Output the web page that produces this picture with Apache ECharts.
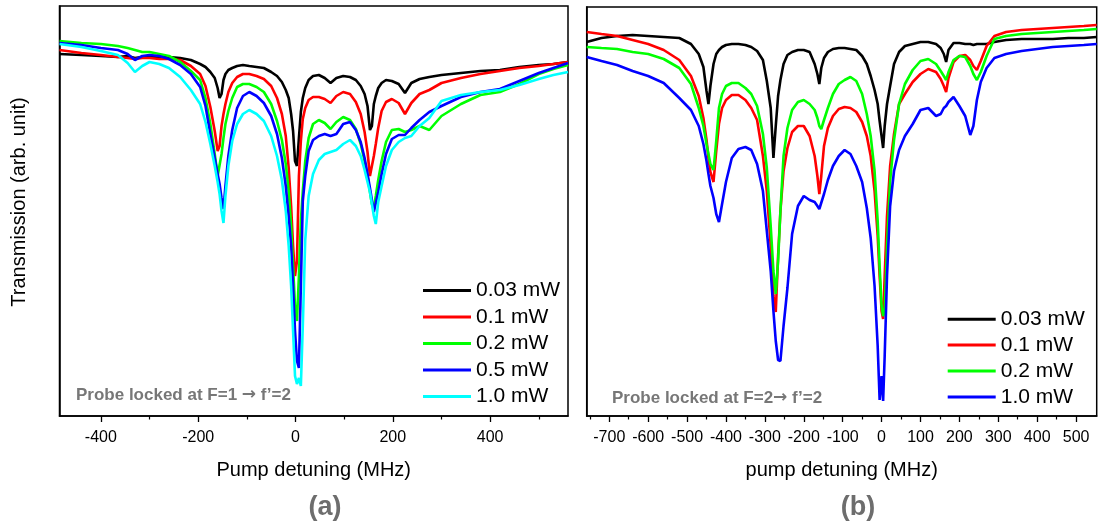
<!DOCTYPE html>
<html><head><meta charset="utf-8">
<script src="https://cdn.jsdelivr.net/npm/echarts@6/dist/echarts.min.js"></script>
<style>html,body{margin:0;padding:0;background:#fff}#c{width:1098px;height:527px}</style>
</head><body><div id="c"></div>
<script>
// ---------- Panel (a): probe locked at F=1 -> f'=2 ----------
const xA = [-485,-440,-400,-365,-345,-330,-315,-300,-280,-260,
 -237,-215,-196,-185,-175,-166,-160,-156,-152,-148,
 -144,-138,-130,-120,-108,-95,-80,-65,-50,-38,
 -28,-20,-14,-9,-5,-1,3,7,11,15,
 20,27,36,48,60,72,84,98,112,124,
 134,142,148,153,157,161,165,170,177,186,
 198,212,225,238,255,275,300,340,380,420,
 460,500,530,560];
const a003 = [3.62,3.61,3.60,3.59,3.60,3.58,3.59,3.59,3.59,3.59,
 3.58,3.56,3.52,3.49,3.44,3.38,3.28,3.18,3.22,3.36,
 3.42,3.46,3.48,3.50,3.51,3.50,3.49,3.48,3.44,3.40,
 3.34,3.26,3.18,3.02,2.85,2.55,2.50,2.78,3.04,3.18,
 3.28,3.36,3.40,3.41,3.38,3.33,3.38,3.40,3.39,3.36,
 3.30,3.22,3.10,2.86,2.90,3.12,3.20,3.28,3.33,3.36,
 3.35,3.32,3.23,3.33,3.37,3.39,3.41,3.43,3.45,3.46,
 3.49,3.51,3.52,3.54];
const a01 = [3.66,3.63,3.61,3.59,3.58,3.57,3.58,3.58,3.57,3.57,
 3.56,3.50,3.42,3.30,3.09,2.85,2.65,2.70,2.90,3.02,
 3.12,3.24,3.33,3.39,3.42,3.42,3.40,3.37,3.30,3.18,
 3.02,2.80,2.48,2.10,1.70,1.40,1.55,2.40,2.75,2.97,
 3.08,3.16,3.19,3.19,3.17,3.13,3.20,3.24,3.22,3.14,
 3.02,2.84,2.64,2.40,2.38,2.60,2.72,2.88,3.05,3.14,
 3.17,3.13,3.02,3.13,3.22,3.26,3.33,3.38,3.42,3.45,
 3.48,3.50,3.52,3.54];
const a02 = [3.75,3.73,3.72,3.70,3.68,3.66,3.64,3.64,3.62,3.60,
 3.54,3.45,3.36,3.18,2.92,2.62,2.40,2.40,2.62,2.78,
 2.92,3.05,3.18,3.29,3.32,3.32,3.29,3.24,3.12,2.95,
 2.76,2.52,2.25,1.90,1.50,1.10,0.95,1.40,1.95,2.25,
 2.55,2.78,2.92,2.96,2.93,2.87,2.94,2.99,2.96,2.87,
 2.72,2.55,2.40,2.24,2.12,2.08,2.20,2.36,2.55,2.74,
 2.86,2.87,2.84,2.86,2.90,2.86,3.00,3.12,3.21,3.24,
 3.32,3.42,3.47,3.51];
const a05 = [3.73,3.71,3.68,3.66,3.62,3.56,3.60,3.61,3.60,3.57,
 3.51,3.42,3.29,3.10,2.82,2.58,2.42,2.32,2.18,2.07,
 2.30,2.60,2.86,3.08,3.20,3.24,3.20,3.13,3.00,2.82,
 2.58,2.30,2.00,1.70,1.30,0.85,0.55,0.48,1.30,2.15,
 2.40,2.65,2.76,2.80,2.82,2.80,2.82,2.92,2.94,2.86,
 2.74,2.58,2.42,2.28,2.16,2.04,2.02,2.24,2.42,2.62,
 2.77,2.81,2.81,2.88,2.96,3.04,3.10,3.19,3.24,3.27,
 3.35,3.43,3.48,3.53];
const a10 = [3.72,3.69,3.65,3.61,3.53,3.44,3.50,3.54,3.52,3.48,
 3.39,3.26,3.12,2.94,2.72,2.50,2.34,2.22,2.05,1.93,
 2.20,2.50,2.75,2.92,3.02,3.06,3.02,2.95,2.80,2.60,
 2.36,2.05,1.70,1.30,0.85,0.40,0.32,0.38,0.30,0.90,
 1.76,2.20,2.42,2.56,2.62,2.64,2.66,2.72,2.76,2.70,
 2.60,2.46,2.34,2.24,2.12,2.00,1.92,2.14,2.30,2.50,
 2.66,2.74,2.78,2.80,2.90,2.98,3.15,3.21,3.24,3.26,
 3.31,3.37,3.41,3.44];
const ticksA = [-400,-200,0,200,400];
const minorA = [-300,-100,100,300,500];

// ---------- Panel (b): probe locked at F=2 -> f'=2 ----------
const xB = [-758,-720,-680,-640,-600,-560,-520,-490,-470,-458,
 -450,-445,-440,-432,-425,-418,-410,-400,-385,-368,
 -350,-335,-320,-305,-295,-285,-278,-272,-266,-260,
 -252,-242,-230,-215,-200,-185,-172,-165,-160,-155,
 -148,-138,-125,-110,-95,-80,-65,-50,-38,-28,
 -18,-10,-5,0,4,8,14,22,32,45,
 60,80,100,120,140,152,160,166,172,185,
 200,215,228,236,245,255,270,290,320,360,
 400,440,480,520,553];
const b003 = [3.74,3.78,3.80,3.81,3.80,3.79,3.78,3.72,3.62,3.49,
 3.25,3.12,3.30,3.52,3.62,3.66,3.69,3.71,3.72,3.72,
 3.71,3.69,3.65,3.56,3.35,3.08,2.58,2.90,3.20,3.36,
 3.52,3.61,3.64,3.66,3.66,3.64,3.52,3.42,3.32,3.48,
 3.58,3.64,3.67,3.68,3.68,3.67,3.66,3.60,3.52,3.40,
 3.26,3.12,2.95,2.80,2.68,2.90,3.12,3.30,3.52,3.64,
 3.70,3.72,3.74,3.74,3.72,3.68,3.62,3.54,3.66,3.73,
 3.73,3.72,3.72,3.71,3.72,3.72,3.72,3.74,3.76,3.77,
 3.77,3.77,3.78,3.78,3.79];
const b01 = [3.84,3.82,3.80,3.76,3.72,3.66,3.56,3.40,3.20,2.98,
 2.76,2.58,2.44,2.34,2.65,2.92,3.08,3.16,3.21,3.21,
 3.16,3.08,2.96,2.60,2.25,1.70,1.20,1.04,1.60,2.05,
 2.45,2.68,2.84,2.90,2.90,2.80,2.60,2.40,2.22,2.40,
 2.70,2.88,3.00,3.07,3.09,3.08,3.04,2.94,2.80,2.60,
 2.25,1.80,1.40,1.05,0.97,1.40,2.00,2.50,2.82,3.12,
 3.22,3.34,3.42,3.47,3.44,3.37,3.30,3.24,3.38,3.54,
 3.60,3.61,3.56,3.50,3.46,3.55,3.70,3.80,3.84,3.86,
 3.87,3.88,3.89,3.90,3.91];
const b02 = [3.69,3.68,3.67,3.64,3.62,3.57,3.48,3.32,3.08,2.90,
 2.72,2.62,2.52,2.46,2.75,3.08,3.22,3.30,3.33,3.33,
 3.28,3.22,3.10,2.82,2.48,1.90,1.45,1.22,1.55,2.05,
 2.60,2.88,3.06,3.14,3.16,3.12,3.06,2.98,2.90,2.87,
 2.96,3.08,3.22,3.32,3.36,3.39,3.35,3.22,3.02,2.80,
 2.45,1.95,1.50,1.10,1.00,1.05,1.70,2.35,2.76,3.12,
 3.32,3.46,3.55,3.57,3.52,3.45,3.40,3.36,3.44,3.56,
 3.60,3.59,3.50,3.42,3.36,3.44,3.60,3.77,3.80,3.82,
 3.83,3.84,3.85,3.86,3.87];
const b10 = [3.59,3.55,3.51,3.45,3.40,3.33,3.18,3.06,2.90,2.72,
 2.55,2.42,2.30,2.18,2.02,1.94,2.12,2.34,2.58,2.67,
 2.69,2.66,2.52,2.25,1.85,1.45,1.05,0.75,0.56,0.55,
 0.90,1.28,1.82,2.10,2.20,2.16,2.14,2.10,2.07,2.06,
 2.22,2.36,2.50,2.60,2.66,2.62,2.50,2.34,2.08,1.78,
 1.30,0.70,0.16,0.40,0.15,0.60,1.40,2.10,2.45,2.66,
 2.80,2.92,3.06,3.08,3.00,3.02,3.08,3.10,3.14,3.19,
 3.10,3.00,2.81,2.90,3.16,3.34,3.48,3.58,3.62,3.65,
 3.67,3.69,3.70,3.71,3.72];
const ticksB = [-700,-600,-500,-400,-300,-200,-100,0,100,200,300,400,500];
const minorB = [-750,-650,-550,-450,-350,-250,-150,-50,50,150,250,350,450];

const namesA = ['0.03 mW','0.1 mW','0.2 mW','0.5 mW','1.0 mW'];
const namesB = ['0.03 mW','0.1 mW','0.2 mW','1.0 mW'];

const FONT = '"Liberation Sans", Arial, sans-serif';
const pairs = (xs, ys) => xs.map((x, i) => [x, ys[i]]);

function mkSeries(tag, name, xs, ys, color, idx) {
  return {
    type: 'line', name: tag + name, xAxisIndex: idx * 2, yAxisIndex: idx,
    data: pairs(xs, ys), symbol: 'none', showSymbol: false, smooth: false,
    lineStyle: { width: 2.6, color: color }, itemStyle: { color: color },
    animation: false
  };
}
function mainX(gi, mn, mx, ticks, title) {
  return {
    gridIndex: gi, type: 'value', min: mn, max: mx, position: 'bottom',
    axisLine: { show: true, onZero: false, lineStyle: { color: '#000', width: 1.5 } },
    axisTick: { show: true, customValues: ticks, length: 6, lineStyle: { color: '#000', width: 1.3 } },
    axisLabel: { customValues: ticks, fontSize: 16, color: '#000', margin: 14, fontFamily: FONT },
    splitLine: { show: false },
    name: title, nameLocation: 'middle', nameGap: 44,
    nameTextStyle: { fontSize: 20, color: '#000', fontFamily: FONT }
  };
}
function minorX(gi, mn, mx, ticks) {
  return {
    gridIndex: gi, type: 'value', min: mn, max: mx, position: 'bottom',
    axisLine: { show: false, onZero: false },
    axisTick: { show: true, customValues: ticks, length: 3.5, lineStyle: { color: '#000', width: 1.2 } },
    axisLabel: { show: false }, splitLine: { show: false }
  };
}
function legendFor(tag, names, left, top, gap) {
  return {
    data: names.map(n => tag + n), orient: 'vertical', left: left, top: top,
    padding: 0, icon: 'rect',
    itemWidth: 48, itemHeight: 3, itemGap: gap, selectedMode: false,
    formatter: n => n.slice(tag.length),
    textStyle: { fontSize: 21, color: '#000', fontFamily: FONT }
  };
}
function probeText(x, y, before, after) {
  return {
    type: 'text', x: x, y: y,
    style: {
      text: '{t|' + before + '}{ar|\u2192}{t|' + after + '}',
      verticalAlign: 'middle',
      rich: {
        t: { font: 'bold 17px ' + FONT, fill: '#777777' },
        ar: { font: 'bold 17px "DejaVu Sans", sans-serif', fill: '#777777' }
      }
    }
  };
}

const colA = ['#000000', '#ff0000', '#00ff00', '#0000ff', '#00ffff'];
const colB = ['#000000', '#ff0000', '#00ff00', '#0000ff'];
const dataA = [a003, a01, a02, a05, a10];
const dataB = [b003, b01, b02, b10];

const series = [];
namesA.forEach((n, i) => series.push(mkSeries('a:', n, xA, dataA[i], colA[i], 0)));
namesB.forEach((n, i) => series.push(mkSeries('b:', n, xB, dataB[i], colB[i], 1)));

const chart = echarts.init(document.getElementById('c'), null, { renderer: 'canvas' });
chart.setOption({
  animation: false,
  backgroundColor: '#fff',
  grid: [
    { left: 59.5, top: 6, width: 508.5, height: 410, show: true, borderColor: '#000', borderWidth: 1.5 },
    { left: 586.7, top: 7, width: 510, height: 409, show: true, borderColor: '#000', borderWidth: 1.5 }
  ],
  xAxis: [
    mainX(0, -485, 560, ticksA, 'Pump detuning (MHz)'),
    minorX(0, -485, 560, minorA),
    mainX(1, -758, 553, ticksB, 'pump detuning (MHz)'),
    minorX(1, -758, 553, minorB)
  ],
  yAxis: [
    { gridIndex: 0, type: 'value', min: 0, max: 4.10,
      axisLine: { show: true, onZero: false, lineStyle: { color: '#000', width: 1.5 } },
      axisTick: { show: false }, axisLabel: { show: false }, splitLine: { show: false },
      name: 'Transmission (arb. unit)', nameLocation: 'middle', nameGap: 30, nameRotate: 90,
      nameTextStyle: { fontSize: 20, color: '#000', fontFamily: FONT, padding: [0, 0, 0, 18] } },
    { gridIndex: 1, type: 'value', min: 0, max: 4.09,
      axisLine: { show: true, onZero: false, lineStyle: { color: '#000', width: 1.5 } },
      axisTick: { show: false }, axisLabel: { show: false }, splitLine: { show: false } }
  ],
  legend: [
    legendFor('a:', namesA, 423, 280, 5.5),
    legendFor('b:', namesB, 947.7, 308.7, 4.9)
  ],
  graphic: [
    probeText(76, 395, 'Probe locked at F=1 ', ' f\u2019=2'),
    probeText(612, 398, 'Probe locked at F=2', ' f\u2019=2'),
    { type: 'text', x: 325, y: 508, style: { text: '(a)', font: 'bold 27px ' + FONT, fill: '#6d6d6d', align: 'center', verticalAlign: 'middle' } },
    { type: 'text', x: 858, y: 508, style: { text: '(b)', font: 'bold 27px ' + FONT, fill: '#6d6d6d', align: 'center', verticalAlign: 'middle' } }
  ],
  series: series
});
</script></body></html>
